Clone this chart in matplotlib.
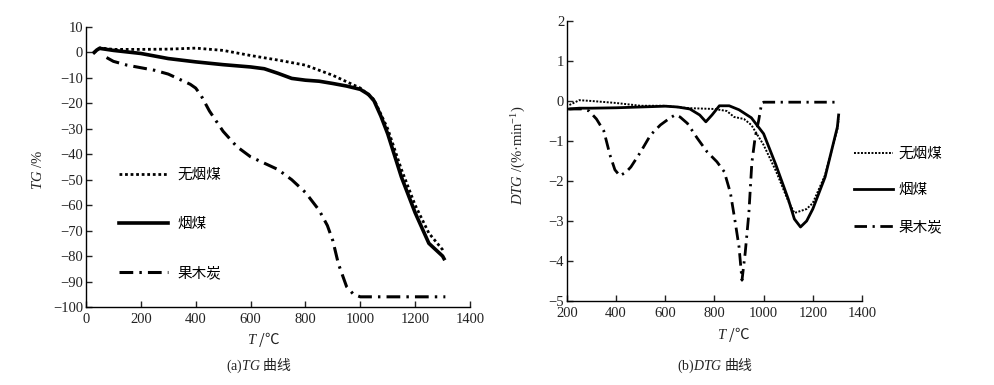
import matplotlib
matplotlib.use("Agg")
import matplotlib.pyplot as plt

plt.rcParams['font.family'] = ['Liberation Serif', 'Noto Sans CJK SC']
plt.rcParams['mathtext.fontset'] = 'custom'
plt.rcParams['mathtext.rm'] = 'Liberation Serif'
plt.rcParams['mathtext.it'] = 'Liberation Serif:italic'

names = ['无烟煤', '烟煤', '果木炭']

# (a) TG curves
tg_T_anth = [30, 40, 50, 100, 200, 300, 400, 500, 600, 700, 800, 900, 950, 1000,
             1050, 1100, 1150, 1200, 1250, 1300, 1305]
tg_anth = [0, 1, 1.8, 1.2, 1.2, 1.3, 1.7, 0.8, -1.2, -3, -5, -9, -11.5, -14,
           -18.5, -30, -46, -60, -71, -77.5, -78.5]
tg_T_bit = [30, 40, 50, 100, 200, 300, 400, 500, 600, 650, 700, 750, 800, 850, 900,
            950, 1000, 1030, 1050, 1075, 1100, 1150, 1200, 1250, 1300, 1305]
tg_bit = [0, 1, 1.6, 0.8, -0.4, -2.4, -3.7, -4.8, -5.7, -6.4, -8.2, -10.2, -10.9,
          -11.3, -12.2, -13.2, -14.5, -16.5, -19, -25, -32, -49, -63, -75, -80, -81]
tg_T_char = [75, 100, 150, 200, 250, 300, 350, 380, 400, 420, 450, 500, 550, 600, 650,
             700, 750, 800, 850, 880, 900, 920, 950, 975, 1000, 1100, 1200, 1310]
tg_char = [-2, -3.5, -5, -6, -7, -8.5, -11, -12.5, -14, -17, -23, -31, -37, -41, -43.5,
           -46, -50, -55, -62, -68, -74, -83, -92, -95, -96, -96, -96, -96]

# (b) DTG curves
dtg_T_anth = [210, 250, 300, 400, 500, 600, 640, 700, 800, 850, 880, 920, 950, 980, 1000,
              1050, 1100, 1125, 1150, 1175, 1200, 1250, 1300, 1305]
dtg_anth = [-0.1, 0.02, 0.0, -0.05, -0.12, -0.12, -0.15, -0.18, -0.2, -0.25, -0.4, -0.45,
            -0.6, -0.9, -1.1, -1.75, -2.5, -2.8, -2.75, -2.7, -2.55, -1.85, -0.7, -0.45]
dtg_T_bit = [210, 250, 300, 400, 500, 600, 650, 700, 740, 765, 790, 820, 860, 900, 950,
             1000, 1050, 1100, 1125, 1150, 1175, 1200, 1250, 1300, 1305]
dtg_bit = [-0.2, -0.18, -0.18, -0.17, -0.15, -0.13, -0.15, -0.2, -0.35, -0.52, -0.35,
           -0.12, -0.12, -0.22, -0.42, -0.82, -1.6, -2.45, -2.95, -3.15, -3.0, -2.7,
           -1.9, -0.65, -0.35]
dtg_T_char = [210, 260, 290, 320, 350, 375, 395, 415, 440, 460, 500, 540, 580, 620, 640,
              660, 690, 730, 770, 810, 840, 865, 885, 900, 912, 925, 940, 952, 965, 980,
              992, 1000, 1100, 1200, 1300]
dtg_char = [-0.2, -0.2, -0.25, -0.45, -0.75, -1.35, -1.72, -1.87, -1.78, -1.65, -1.27,
            -0.85, -0.6, -0.42, -0.35, -0.4, -0.56, -0.93, -1.27, -1.52, -1.77, -2.3,
            -3.05, -3.65, -4.48, -3.8, -2.8, -1.55, -0.93, -0.48, -0.05, -0.03, -0.03,
            -0.03, -0.03]

fig = plt.figure(figsize=(9.95, 3.85), dpi=100)
ax1 = fig.add_axes([0.0864, 0.2026, 0.386, 0.7273])
ax2 = fig.add_axes([0.5698, 0.2182, 0.2965, 0.7273])

dots = (0, (1, 1))
dashdot = (0, (4.5, 2.0, 0.8, 2.0))

ax1.plot(tg_T_anth, tg_anth, color='black', lw=2.0, linestyle=dots, label=names[0])
ax1.plot(tg_T_bit, tg_bit, color='black', lw=2.6, label=names[1])
ax1.plot(tg_T_char, tg_char, color='black', lw=2.2, linestyle=dashdot, label=names[2])

ax2.plot(dtg_T_anth, dtg_anth, color='black', lw=1.4, linestyle=(0, (1, 0.8)), label=names[0])
ax2.plot(dtg_T_bit, dtg_bit, color='black', lw=2.0, label=names[1])
ax2.plot(dtg_T_char, dtg_char, color='black', lw=2.0, linestyle=dashdot, label=names[2])

ax1.set_xlim(0, 1400)
ax1.set_ylim(-100, 10)
ax1.set_xticks(range(0, 1401, 200))
ax1.set_yticks(range(-100, 11, 10))
ax2.set_xlim(200, 1400)
ax2.set_ylim(-5, 2)
ax2.set_xticks(range(200, 1401, 200))
ax2.set_yticks(range(-5, 3))

for ax in (ax1, ax2):
    ax.spines['top'].set_visible(False)
    ax.spines['right'].set_visible(False)
    ax.spines['left'].set_linewidth(1.0)
    ax.spines['bottom'].set_linewidth(1.0)
    ax.tick_params(direction='in', length=4, width=1, labelsize=10.5, colors='#222222')
    ax.tick_params(axis='x', pad=4)
    ax.tick_params(axis='y', pad=2)

ax1.legend(loc='upper left', bbox_to_anchor=(0.12, 0.562), bbox_transform=fig.transFigure,
           frameon=False, fontsize=10.5, handlelength=3.3, handletextpad=0.65,
           labelspacing=2.45, borderpad=0, borderaxespad=0)
ax2.legend(loc='upper left', bbox_to_anchor=(0.858, 0.617), bbox_transform=fig.transFigure,
           frameon=False, fontsize=10.5, handlelength=2.7, handletextpad=0.4,
           labelspacing=1.6, borderpad=0, borderaxespad=0)

cjk = 'Noto Sans CJK SC'
fig.text(0.038, 0.558, r'$\mathit{TG}$ /%', rotation=90, ha='center', va='center',
         fontsize=10.5, family='Liberation Serif', color='#222222')
fig.text(0.521, 0.597, r'$\mathit{DTG}$ /(%·$\mathrm{min}^{-1}$)', rotation=90,
         ha='center', va='center', fontsize=10.5, family='Liberation Serif', color='#222222')
fig.text(0.265, 0.117, r'$\mathit{T}$ /℃', ha='center', va='center', fontsize=10.5,
         family=cjk, color='#222222')
fig.text(0.737, 0.130, r'$\mathit{T}$ /℃', ha='center', va='center', fontsize=10.5,
         family=cjk, color='#222222')
fig.text(0.26, 0.049, r'$\mathrm{(a)}\mathit{TG}$ 曲线', ha='center', va='center',
         fontsize=10, family=cjk, color='#222222')
fig.text(0.719, 0.049, r'$\mathrm{(b)}\mathit{DTG}$ 曲线', ha='center', va='center',
         fontsize=10, family=cjk, color='#222222')

fig.savefig('out.png', dpi=100)
